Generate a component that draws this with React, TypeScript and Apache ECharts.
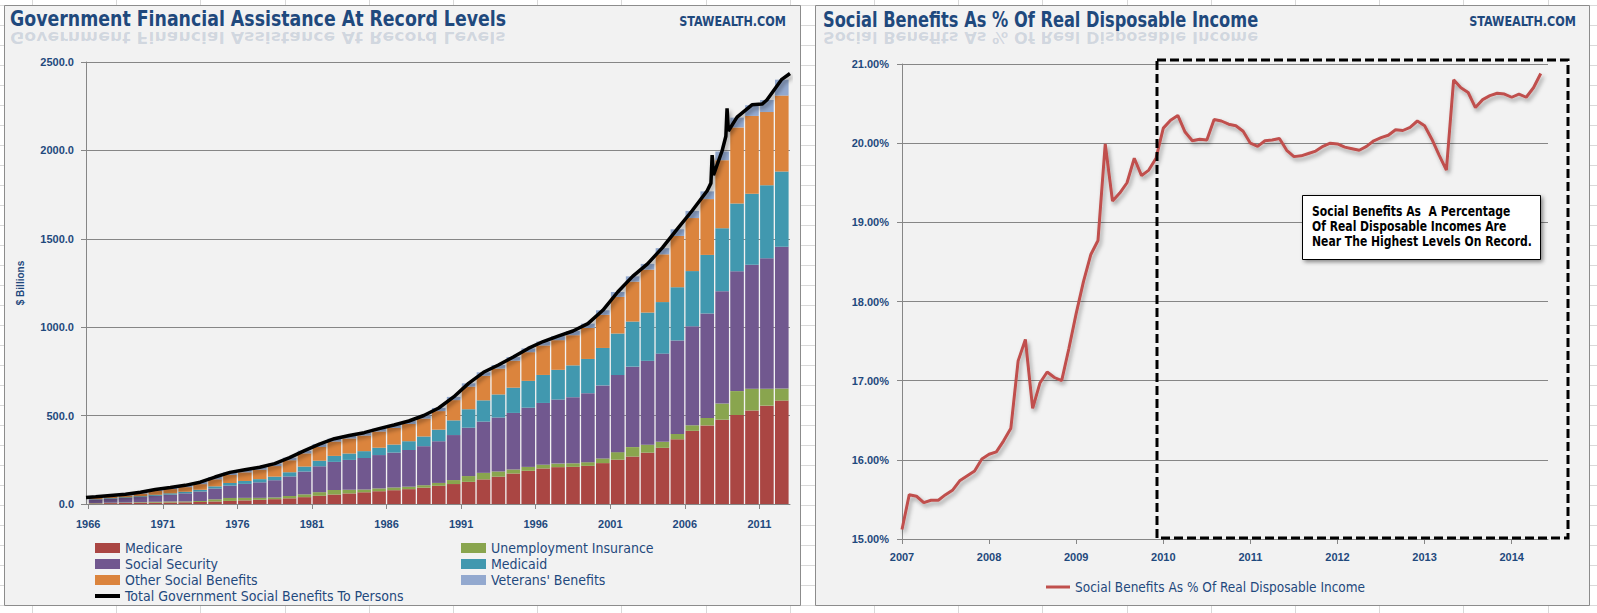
import React, { useEffect, useRef } from "react";
import * as echarts from "echarts";

// ---------------- LEFT CHART DATA ($ billions, one bar per year) ----------------
const barYears = [
  "1966", "1967", "1968", "1969", "1970", "1971", "1972", "1973", "1974", "1975", "1976", "1977",
  "1978", "1979", "1980", "1981", "1982", "1983", "1984", "1985", "1986", "1987", "1988", "1989",
  "1990", "1991", "1992", "1993", "1994", "1995", "1996", "1997", "1998", "1999", "2000", "2001",
  "2002", "2003", "2004", "2005", "2006", "2007", "2008", "2009", "2010", "2011", "2012",
];
const medicare = [
  2.8, 5.1, 6.2, 7.0, 7.6, 8.4, 9.5, 11.5, 14.4, 17.4, 20.5, 23.7, 27.4, 32.2, 38.8, 46.4,
  53.5, 59.8, 66.3, 72.3, 78.1, 84.1, 92.5, 102.9, 112.9, 125.3, 139.3, 154.7, 172.5, 187.9, 201.1, 208.5,
  210.2, 215.8, 231.3, 250.7, 268.4, 290.4, 317.7, 366.0, 414.0, 444.5, 476.9, 503.5, 529.0, 556.3, 585.0,
];
const unemployment = [
  2.2, 2.2, 2.3, 3.2, 4.9, 5.8, 5.1, 5.6, 12.2, 16.7, 14.3, 11.2, 9.9, 13.1, 16.0, 20.6,
  25.7, 20.9, 15.7, 16.0, 15.4, 13.9, 13.8, 16.3, 22.4, 32.8, 36.9, 29.4, 22.8, 22.0, 21.2, 19.9,
  20.1, 20.6, 26.3, 42.7, 53.4, 44.9, 33.8, 30.6, 31.3, 41.9, 91.2, 135.1, 123.1, 95.4, 68.0,
];
const socialSecurity = [
  20.7, 23.2, 25.9, 29.2, 34.0, 38.9, 45.7, 53.5, 61.2, 70.0, 79.0, 87.6, 97.2, 110.6, 128.8, 146.4,
  159.1, 168.7, 178.2, 188.5, 197.3, 207.5, 220.7, 235.8, 254.7, 273.5, 289.9, 305.0, 319.9, 334.9, 349.3, 362.5,
  373.9, 390.5, 413.3, 436.0, 455.2, 474.5, 499.1, 528.4, 559.9, 591.3, 635.6, 677.3, 701.8, 737.7, 802.0,
];
const medicaid = [
  1.9, 3.0, 3.9, 4.7, 5.7, 7.4, 8.8, 9.9, 12.1, 14.6, 16.5, 18.1, 20.2, 23.7, 28.0, 31.4,
  33.8, 36.2, 38.7, 41.6, 45.4, 49.6, 54.9, 65.5, 83.0, 104.4, 120.2, 130.6, 142.9, 151.7, 158.4, 168.0,
  179.9, 193.5, 211.7, 234.9, 255.0, 273.0, 291.5, 301.1, 312.2, 331.2, 356.1, 384.1, 401.0, 413.5, 425.0,
];
const otherBenefits = [
  8.1, 8.9, 10.1, 15.3, 21.7, 24.0, 26.5, 32.0, 39.6, 45.6, 48.8, 53.6, 59.9, 68.0, 74.8, 77.9,
  81.1, 85.0, 88.2, 91.5, 94.2, 97.7, 101.2, 104.9, 114.7, 127.7, 139.1, 146.3, 152.5, 162.3, 166.9, 167.8,
  170.7, 175.1, 187.3, 207.1, 225.5, 242.8, 270.0, 290.0, 300.0, 315.7, 385.0, 430.0, 440.0, 414.0, 430.0,
];
const veterans = [
  5.9, 6.2, 6.7, 7.4, 8.3, 9.2, 10.0, 11.1, 13.2, 14.8, 14.5, 13.9, 14.0, 14.4, 15.2, 16.1,
  16.5, 16.5, 16.6, 16.7, 16.7, 17.0, 17.5, 17.8, 18.1, 18.8, 19.7, 20.1, 20.5, 21.3, 22.2, 23.0,
  23.8, 24.6, 25.8, 27.7, 30.1, 32.5, 35.0, 37.7, 40.2, 43.6, 49.0, 55.2, 60.8, 68.2, 90.0,
];
// total government social benefits to persons: [year position, $bn]
const totalLine: [number, number][] = [
  [1965.85, 37], [1966.5, 41.5], [1967.5, 48.5], [1968.5, 55], [1969.5, 66.5], [1970.5, 82], [1971.5, 93.5],
  [1972.5, 105.5], [1973.5, 123.5], [1974.5, 152.5], [1975.5, 179], [1976.5, 193.5], [1977.5, 208],
  [1978.5, 228.5], [1979.5, 262], [1980.5, 301.5], [1981.5, 338.5], [1982.5, 369.5], [1983.5, 387],
  [1984.5, 403.5], [1985.5, 426.5], [1986.5, 447], [1987.5, 469.5], [1988.5, 500.5], [1989.5, 543],
  [1990.5, 605.5], [1991.5, 682.5], [1992.5, 745], [1993.5, 786], [1994.5, 831], [1995.5, 880],
  [1996.5, 919], [1997.5, 949.5], [1998.5, 978.5], [1999.5, 1020], [2000.5, 1095.5], [2001.5, 1199],
  [2002.5, 1287.5], [2003.5, 1358], [2004.5, 1450], [2005.5, 1556], [2006.5, 1660], [2007.5, 1772],
  [2007.75, 1815], [2007.83, 1973], [2007.92, 1860], [2008.5, 1998], [2008.75, 2080], [2008.83, 2238],
  [2008.92, 2110], [2009.5, 2188], [2010.5, 2258], [2011.18, 2262], [2011.5, 2285], [2012.5, 2402],
  [2013.05, 2435],
];
const leftTickYears = [1966, 1971, 1976, 1981, 1986, 1991, 1996, 2001, 2006, 2011];

// ---------------- RIGHT CHART DATA (monthly, % of real disposable income) ----------------
const rightStartYear = 2007;
const rightMonthCount = 90;
const ratio = [
  15.12, 15.56, 15.54, 15.46, 15.49, 15.49, 15.56, 15.62, 15.74, 15.8, 15.86, 16.01,
  16.07, 16.1, 16.24, 16.4, 17.25, 17.52, 16.65, 16.97, 17.11, 17.04, 17.0, 17.41,
  17.85, 18.25, 18.59, 18.77, 19.99, 19.27, 19.37, 19.5, 19.81, 19.59, 19.66, 19.81,
  20.19, 20.29, 20.35, 20.14, 20.03, 20.05, 20.04, 20.3, 20.28, 20.24, 20.22, 20.15,
  20.0, 19.96, 20.03, 20.04, 20.06, 19.91, 19.83, 19.84, 19.87, 19.9, 19.96, 20.0,
  19.99, 19.95, 19.93, 19.91, 19.96, 20.03, 20.07, 20.1, 20.17, 20.16, 20.2, 20.28,
  20.22, 20.05, 19.85, 19.66, 20.8, 20.7, 20.64, 20.45, 20.55, 20.6, 20.63, 20.62,
  20.58, 20.62, 20.58, 20.7, 20.88,
];

const NARROW = "'Liberation Sans Narrow', 'DejaVu Sans Condensed', 'Roboto Condensed', Arial, sans-serif";
const SANS = "'Liberation Sans', Arial, sans-serif";
const NAVY = "#1F497D";
const AXIS_GRAY = "#868686";

const stackSeries = [
  { name: "Medicare", data: medicare, color: "#AA4643" },
  { name: "Unemployment Insurance", data: unemployment, color: "#89A54E" },
  { name: "Social Security", data: socialSecurity, color: "#71588F" },
  { name: "Medicaid", data: medicaid, color: "#4198AF" },
  { name: "Other Social Benefits", data: otherBenefits, color: "#DB843D" },
  { name: "Veterans' Benefits", data: veterans, color: "#93A9CF" },
];
const TOTAL_NAME = "Total Government Social Benefits To Persons";
const RATIO_NAME = "Social Benefits As % Of Real Disposable Income";

// plot geometry
const L_LEFT = 86, L_TOP = 62, L_W = 704, L_H = 442;
const X_MIN = 1965.85, X_MAX = 2013.05;
const PX_PER_YEAR = L_W / (X_MAX - X_MIN);

function buildOption() {
  const months: string[] = [];
  for (let i = 0; i < rightMonthCount; i++) {
    const y = rightStartYear + Math.floor(i / 12);
    const m = (i % 12) + 1;
    months.push(`${y}-${m < 10 ? "0" + m : m}`);
  }

  const graphics: any[] = [];
  // spreadsheet cell lines behind the charts
  for (let k = 0; k < 19; k++) {
    const x = Math.round(32 + 84.2 * k) + 0.5;
    graphics.push({ type: "line", z: -30, silent: true, shape: { x1: x, y1: 0, x2: x, y2: 613 }, style: { stroke: "#d9d9d9", lineWidth: 1 } });
  }
  for (let k = 0; k < 31; k++) {
    const y = 5 + 20 * k + 0.5;
    graphics.push({ type: "line", z: -30, silent: true, shape: { x1: 0, y1: y, x2: 1597, y2: y }, style: { stroke: "#d9d9d9", lineWidth: 1 } });
  }
  // panels
  graphics.push({ type: "rect", z: -20, silent: true, shape: { x: 4.5, y: 5.5, width: 796, height: 600 }, style: { fill: "#F2F2F2", stroke: "#8C8C8C", lineWidth: 1 } });
  graphics.push({ type: "rect", z: -20, silent: true, shape: { x: 815.5, y: 5.5, width: 774, height: 600 }, style: { fill: "#F2F2F2", stroke: "#8C8C8C", lineWidth: 1 } });

  const titleFont = `bold 22px ${NARROW}`;
  const titles = [
    { text: "Government Financial Assistance At Record Levels", x: 10, sx: 0.877 },
    { text: "Social Benefits As % Of Real Disposable Income", x: 823, sx: 0.82 },
  ];
  titles.forEach((t) => {
    graphics.push({ type: "text", z: 20, x: t.x, y: 30, scaleX: t.sx, scaleY: -0.7, silent: true, style: { text: t.text, font: titleFont, fill: "rgba(31,73,125,0.16)", verticalAlign: "bottom" } });
    graphics.push({ type: "text", z: 21, x: t.x, y: 30, scaleX: t.sx, silent: true, style: { text: t.text, font: titleFont, fill: NAVY, verticalAlign: "bottom" } });
  });
  graphics.push({ type: "text", z: 21, x: 786, y: 21, scaleX: 0.89, style: { text: "STAWEALTH.COM", font: `bold 14px ${NARROW}`, fill: NAVY, align: "right", verticalAlign: "middle" } });
  graphics.push({ type: "text", z: 21, x: 1576, y: 21, scaleX: 0.89, style: { text: "STAWEALTH.COM", font: `bold 14px ${NARROW}`, fill: NAVY, align: "right", verticalAlign: "middle" } });

  // dashed highlight box and annotation
  graphics.push({ type: "rect", z: 50, silent: true, shape: { x: 1157, y: 60, width: 411, height: 478 }, style: { fill: "none", stroke: "#000", lineWidth: 3, lineDash: [9, 4] } });
  graphics.push({
    type: "rect", z: 60, silent: true, shape: { x: 1302.5, y: 195.5, width: 238, height: 64 },
    style: { fill: "#fff", stroke: "#000", lineWidth: 1, shadowBlur: 4, shadowColor: "rgba(0,0,0,0.45)", shadowOffsetX: 2, shadowOffsetY: 2 },
  });
  graphics.push({
    type: "text", z: 61, x: 1312, y: 204, scaleX: 0.86, silent: true,
    style: {
      text: "Social Benefits As  A Percentage\nOf Real Disposable Incomes Are\nNear The Highest Levels On Record.",
      font: `bold 14px ${NARROW}`, fill: "#000", lineHeight: 15, verticalAlign: "top",
    },
  });

  const shadow = { shadowColor: "rgba(0,0,0,0.35)", shadowBlur: 4, shadowOffsetX: 2, shadowOffsetY: 3 };

  const series: any[] = stackSeries.map((s) => ({
    name: s.name,
    type: "bar",
    xAxisIndex: 2,
    yAxisIndex: 2,
    stack: "benefits",
    barWidth: 13.6,
    itemStyle: { color: s.color },
    data: s.data,
    z: 2,
  }));
  series.push({
    name: TOTAL_NAME, type: "line", xAxisIndex: 0, yAxisIndex: 0, symbol: "none",
    data: totalLine, lineStyle: { color: "#000", width: 3.5, ...shadow }, itemStyle: { color: "#000" }, z: 5,
  });
  series.push({
    name: RATIO_NAME, type: "line", xAxisIndex: 1, yAxisIndex: 1, symbol: "none",
    data: ratio, lineStyle: { color: "#C0504D", width: 3, ...shadow }, itemStyle: { color: "#C0504D" }, z: 5,
  });

  const legendText = { fontFamily: NARROW, fontSize: 14, color: NAVY, lineHeight: 16 };
  const rectItem = (n: string) => ({ name: n, icon: "rect" });
  const lineIcon = "path://M0,0L25,0L25,4L0,4Z";

  return {
    animation: false,
    backgroundColor: "#ffffff",
    graphic: graphics,
    grid: [
      { left: L_LEFT, top: L_TOP, width: L_W, height: L_H, outerBoundsMode: "none", containLabel: false },
      { left: 902, top: 64, width: 646, height: 475, outerBoundsMode: "none", containLabel: false },
      {
        left: L_LEFT + (1966 - X_MIN) * PX_PER_YEAR, top: L_TOP, width: barYears.length * PX_PER_YEAR, height: L_H,
        outerBoundsMode: "none", containLabel: false,
      },
    ],
    xAxis: [
      {
        type: "value", gridIndex: 0, min: X_MIN, max: X_MAX,
        axisLine: { show: true, onZero: false, lineStyle: { color: AXIS_GRAY } },
        axisTick: { show: true, length: 5, customValues: leftTickYears, lineStyle: { color: AXIS_GRAY } },
        axisLabel: { customValues: leftTickYears, formatter: (v: number) => String(v), color: NAVY, fontFamily: SANS, fontWeight: "bold", fontSize: 11, margin: 14 },
        splitLine: { show: false },
      },
      {
        type: "category", gridIndex: 1, data: months, boundaryGap: false,
        axisLine: { show: true, onZero: false, lineStyle: { color: AXIS_GRAY } },
        axisTick: { show: true, interval: 11, length: 5, lineStyle: { color: AXIS_GRAY } },
        axisLabel: { interval: 11, formatter: (v: string) => v.slice(0, 4), color: NAVY, fontFamily: SANS, fontWeight: "bold", fontSize: 11, margin: 12 },
        splitLine: { show: false },
      },
      { type: "category", gridIndex: 2, data: barYears, boundaryGap: true, show: false },
    ],
    yAxis: [
      {
        type: "value", gridIndex: 0, min: 0, max: 2500, interval: 500,
        name: "$ Billions", nameLocation: "middle", nameRotate: 90, nameGap: 61,
        nameTextStyle: { color: NAVY, fontFamily: SANS, fontWeight: "bold", fontSize: 10 },
        axisLine: { show: true, lineStyle: { color: AXIS_GRAY } },
        axisTick: { show: true, length: 5, lineStyle: { color: AXIS_GRAY } },
        axisLabel: { formatter: (v: number) => v.toFixed(1), color: NAVY, fontFamily: SANS, fontWeight: "bold", fontSize: 11, margin: 12 },
        splitLine: { show: true, lineStyle: { color: AXIS_GRAY, width: 1 } },
      },
      {
        type: "value", gridIndex: 1, min: 15, max: 21, interval: 1,
        axisLine: { show: true, lineStyle: { color: AXIS_GRAY } },
        axisTick: { show: true, length: 5, lineStyle: { color: AXIS_GRAY } },
        axisLabel: { formatter: (v: number) => v.toFixed(2) + "%", color: NAVY, fontFamily: SANS, fontWeight: "bold", fontSize: 11, margin: 13 },
        splitLine: { show: true, lineStyle: { color: AXIS_GRAY, width: 1 } },
      },
      { type: "value", gridIndex: 2, min: 0, max: 2500, show: false, splitLine: { show: false } },
    ],
    legend: [
      {
        orient: "vertical", left: 95, top: 540, padding: 0, itemWidth: 25, itemHeight: 10, itemGap: 0, selectedMode: false,
        textStyle: legendText,
        data: [rectItem("Medicare"), rectItem("Social Security"), rectItem("Other Social Benefits"), { name: TOTAL_NAME, icon: lineIcon }],
      },
      {
        orient: "vertical", left: 461, top: 540, padding: 0, itemWidth: 25, itemHeight: 10, itemGap: 0, selectedMode: false,
        textStyle: legendText,
        data: [rectItem("Unemployment Insurance"), rectItem("Medicaid"), rectItem("Veterans' Benefits")],
      },
      {
        orient: "horizontal", left: 1046, top: 579, padding: 0, itemWidth: 24, itemHeight: 10, selectedMode: false,
        textStyle: { ...legendText, fontSize: 13.5 },
        data: [{ name: RATIO_NAME, icon: "path://M0,0L24,0L24,3L0,3Z" }],
      },
    ],
    tooltip: { show: false },
    series,
  };
}

export default function App() {
  const ref = useRef<HTMLDivElement>(null);
  useEffect(() => {
    document.body.style.margin = "0";
    document.body.style.padding = "0";
    if (!ref.current) return;
    const chart = echarts.init(ref.current, undefined, { renderer: "svg" });
    chart.setOption(buildOption() as any);
    return () => chart.dispose();
  }, []);
  return <div ref={ref} style={{ position: "relative", width: 1597, height: 613 }} />;
}
